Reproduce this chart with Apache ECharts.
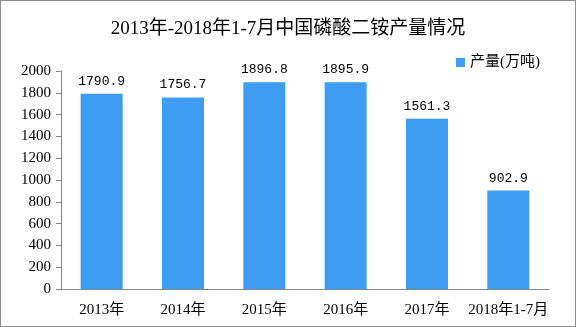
<!DOCTYPE html>
<html><head><meta charset="utf-8">
<script src="https://cdn.jsdelivr.net/npm/echarts@6/dist/echarts.min.js"></script>
<style>html,body{margin:0;padding:0;background:#fff}#c{width:576px;height:327px;box-sizing:border-box;border:1px solid #8c8c8c}</style>
</head><body><div id="c"></div>
<script>
var categories = ['2013年','2014年','2015年','2016年','2017年','2018年1-7月'];
var production = [1790.9, 1756.7, 1896.8, 1895.9, 1561.3, 902.9];
var seriesName = '产量(万吨)';
var titleText = '2013年-2018年1-7月中国磷酸二铵产量情况';
var ff = '"Liberation Serif","Noto Sans CJK SC",serif';
var chart = echarts.init(document.getElementById('c'));
chart.setOption({
  animation:false,
  title:{text:titleText,left:'center',top:14,textStyle:{fontFamily:ff,fontSize:19,fontWeight:'normal',color:'#000'}},
  legend:{data:[{name:seriesName,icon:'rect'}],right:30,top:49,itemWidth:9,itemHeight:9,itemGap:3,textStyle:{fontFamily:ff,fontSize:15,color:'#000'}},
  grid:{left:60,right:26,top:70,bottom:37},
  xAxis:{type:'category',data:categories,axisLine:{lineStyle:{color:'#868686'}},axisTick:{length:5,lineStyle:{color:'#868686'}},axisLabel:{interval:0,color:'#000',fontFamily:ff,fontSize:15,margin:14}},
  yAxis:{type:'value',min:0,max:2000,interval:200,splitLine:{show:false},axisLine:{show:true,lineStyle:{color:'#868686'}},axisTick:{show:true,length:5,lineStyle:{color:'#868686'}},axisLabel:{formatter:function(v){return String(v);},color:'#000',fontFamily:ff,fontSize:15,margin:10}},
  series:[{name:seriesName,type:'bar',data:production,barWidth:42,itemStyle:{color:'#3e9df1'},label:{show:true,position:'top',distance:6,color:'#000',fontFamily:'"Liberation Mono",monospace',fontSize:13}}]
});
</script></body></html>
